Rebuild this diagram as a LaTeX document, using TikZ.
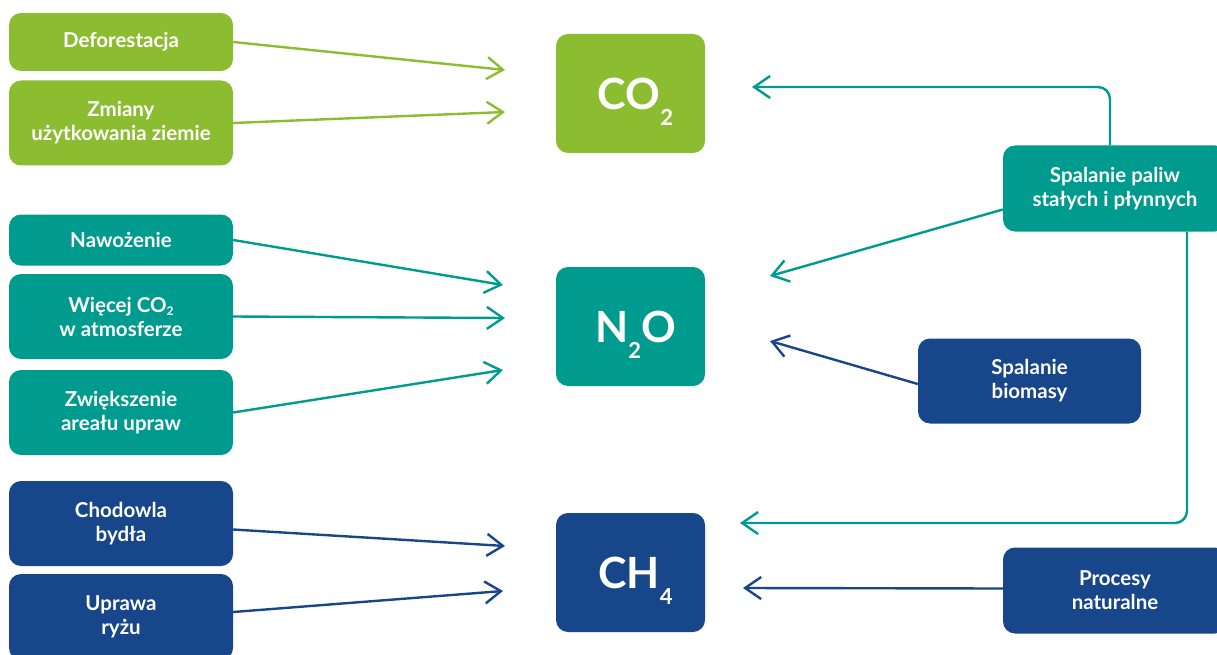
\documentclass[tikz,border=0pt]{standalone}
\usepackage{fontspec}
\setmainfont{Lato}
\usepackage{xcolor}
\usepackage{tikz}
\usetikzlibrary{arrows.meta,positioning}
\definecolor{leafgreen}{HTML}{8CBD31}
\definecolor{seateal}{HTML}{009B8F}
\definecolor{deepnavy}{HTML}{17468A}
\newcommand{\bigsub}[1]{\raisebox{-16pt}{\fontsize{22}{22}\selectfont #1}}
\newcommand{\smallsub}[1]{\raisebox{-3.5pt}{\fontsize{12}{12}\selectfont #1}}

\begin{document}
\begin{tikzpicture}[x=1pt,y=-1pt,
  box/.style={rounded corners=12pt,text=white,inner sep=0pt,align=center,
    font=\fontsize{20.5}{24}\selectfont\bfseries},
  src/.style={box,minimum width=224pt,minimum height=85pt},
  gas/.style={box,minimum width=149pt,minimum height=119pt,
    text height=32pt,text depth=0pt,
    font=\fontsize{43}{43}\selectfont\bfseries},
  arr/.style={-{Straight Barb[length=16pt,width=22pt]},line width=2.4pt}]
\useasboundingbox (0,0) rectangle (1217,655);

\node[src,fill=leafgreen,minimum height=58pt] (defor) at (121,42) {Deforestacja};
\node[src,fill=leafgreen] (zmiany) at (121,123) {Zmiany\\użytkowania ziemie};
\node[src,fill=seateal,minimum height=51pt] (nawoz) at (121,240) {Nawożenie};
\node[src,fill=seateal] (wiecej) at (121,316.5) {Więcej CO\smallsub{2}\\w atmosferze};
\node[src,fill=seateal] (zwieksz) at (121,412.5) {Zwiększenie\\areału upraw};
\node[src,fill=deepnavy] (bydlo) at (121,523.5) {Chodowla\\bydła};
\node[src,fill=deepnavy,minimum height=86pt] (ryz) at (121,617) {Uprawa\\ryżu};

\node[gas,fill=leafgreen] (co2) at (630.5,93.5) {\kern10pt CO\bigsub{2}};
\node[gas,fill=seateal] (n2o) at (630.5,326.5) {\kern10pt N\bigsub{2}O};
\node[gas,fill=deepnavy] (ch4) at (630.5,572.5) {\kern10pt CH\bigsub{4}};

\node[src,fill=seateal,minimum height=86pt] (paliwa) at (1115,188.5) {Spalanie paliw\\stałych i płynnych};
\node[src,fill=deepnavy,minimum width=223pt] (biomasa) at (1029.5,381) {Spalanie\\biomasy};
\node[src,fill=deepnavy,minimum height=86pt] (natura) at (1115,590.5) {Procesy\\naturalne};

\coordinate (co2a) at (505,70);
\coordinate (co2b) at (505,112);
\coordinate (co2c) at (752,87);
\coordinate (n2oa) at (503,285);
\coordinate (n2ob) at (505,318);
\coordinate (n2oc) at (503,370);
\coordinate (n2od) at (770,276);
\coordinate (n2oe) at (770,341);
\coordinate (ch4a) at (505,546);
\coordinate (ch4b) at (503,591);
\coordinate (ch4c) at (740,523);
\coordinate (ch4d) at (743,588);

\draw[arr,leafgreen] (defor.east) -- (co2a);
\draw[arr,leafgreen] (zmiany.east) -- (co2b);
\draw[arr,seateal] (nawoz.east) -- (n2oa);
\draw[arr,seateal] (wiecej.east) -- (n2ob);
\draw[arr,seateal] (zwieksz.east) -- (n2oc);
\draw[arr,deepnavy] ([yshift=-6pt]bydlo.east) -- (ch4a);
\draw[arr,deepnavy] ([yshift=5pt]ryz.east) -- (ch4b);

\draw[arr,seateal,rounded corners=12pt] ([xshift=-5pt]paliwa.north) |- (co2c);
\draw[arr,seateal] ([yshift=-21pt]paliwa.west) -- (n2od);
\draw[arr,seateal,rounded corners=12pt] ([xshift=72pt]paliwa.south) |- (ch4c);
\draw[arr,deepnavy] ([yshift=-3pt]biomasa.west) -- (n2oe);
\draw[arr,deepnavy] ([yshift=2pt]natura.west) -- (ch4d);
\end{tikzpicture}
\end{document}
